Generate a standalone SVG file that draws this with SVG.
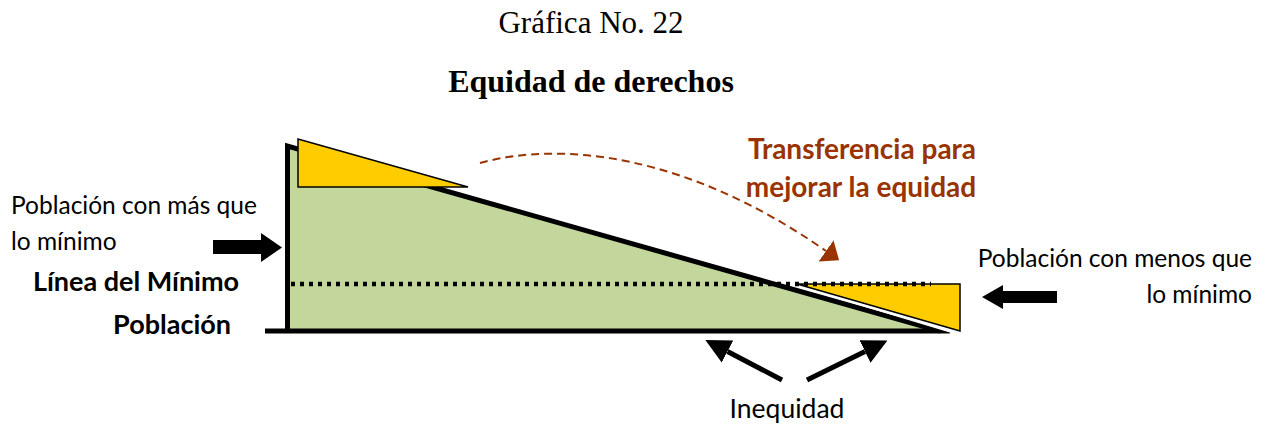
<svg xmlns="http://www.w3.org/2000/svg" width="1266" height="425" viewBox="0 0 1266 425">
<style>
.title{font-family:"Liberation Serif","Times New Roman",serif;fill:#000}
.cal{font-family:Lato,"Liberation Sans",sans-serif;fill:#000;font-size:24.5px}
.b{font-weight:bold;font-size:27px}
.brown{fill:#993300;font-size:28px}
.blk{fill:#000}
.yel{fill:#FFCC00;stroke:#000;stroke-width:1.5;stroke-linejoin:miter}
.arr{stroke:#000;stroke-width:5;fill:none;marker-end:url(#ah)}
</style>
<defs>
<marker id="ah" viewBox="0 0 10 10" refX="0" refY="5" markerWidth="5" markerHeight="5.1" orient="auto" markerUnits="strokeWidth">
<path d="M0,0 L10,5 L0,10 z" fill="#000"/>
</marker>
<marker id="bh" viewBox="0 0 16 26" refX="0" refY="13" markerWidth="16" markerHeight="26" orient="auto" markerUnits="userSpaceOnUse">
<path d="M0,0 L16,13 L0,26 z" fill="#993300"/>
</marker>
</defs>
<rect width="1266" height="425" fill="#fff"/>
<text class="title" x="591" y="33" font-size="31" text-anchor="middle">Gráfica No. 22</text>
<text class="title" x="591" y="92" font-size="32" font-weight="bold" text-anchor="middle">Equidad de derechos</text>
<g id="graph">
<polygon points="287.5,146 940,331 287.5,331" fill="#C3D69B"/>
<polyline points="287.5,333 287.5,146 940,331" fill="none" stroke="#000" stroke-width="5" stroke-linejoin="miter"/>
<line x1="265" y1="331" x2="950" y2="331" stroke="#000" stroke-width="5"/>
</g>
<g id="upper-triangle">
<polygon class="yel" points="298,139 298,187 468,187"/>
</g>
<g id="minimum-line">
<line x1="786" y1="281" x2="957" y2="332.5" stroke="#fff" stroke-width="4"/>
<polygon class="yel" points="797,284 960,284 960,331"/>
<line x1="291" y1="284" x2="931" y2="284" stroke="#000" stroke-width="4.5" stroke-dasharray="4 5"/>
</g>
<g id="connectors">
<path d="M480,163 C560,141 686,153 826,251" fill="none" stroke="#993300" stroke-width="2" stroke-dasharray="8 5" marker-end="url(#bh)"/>
<polygon class="blk" points="213,240 261,240 261,233 282,247.5 261,262 261,254 213,254"/>
<polygon class="blk" points="1057,291 1003,291 1003,285 982,297 1003,309 1003,303 1057,303"/>
<line class="arr" x1="782" y1="380" x2="727.5" y2="351.5"/>
<line class="arr" x1="807" y1="380" x2="865" y2="351.5"/>
</g>
<g id="labels">
<text class="cal b brown" x="862" y="159" text-anchor="middle">Transferencia para</text>
<text class="cal b brown" x="861" y="197" text-anchor="middle">mejorar la equidad</text>
<text class="cal" x="11" y="214">Población con más que</text>
<text class="cal" x="11" y="250">lo mínimo</text>
<text class="cal b" x="136" y="291" text-anchor="middle">Línea del Mínimo</text>
<text class="cal b" x="231" y="334" text-anchor="end">Población</text>
<text class="cal" x="1252" y="267" text-anchor="end">Población con menos que</text>
<text class="cal" x="1252" y="303" text-anchor="end">lo mínimo</text>
<text class="cal" x="787" y="418" font-size="26.5" text-anchor="middle" style="font-size:26.5px">Inequidad</text>
</g>
</svg>
